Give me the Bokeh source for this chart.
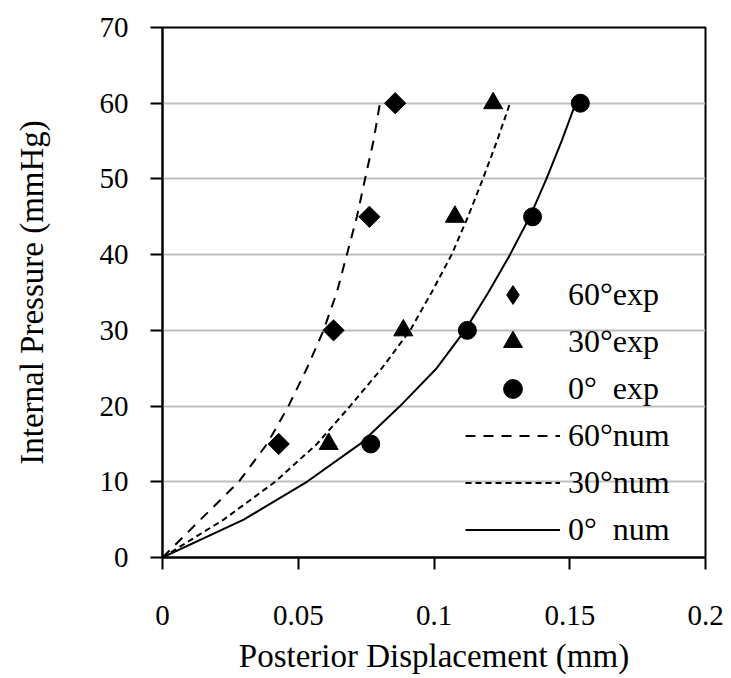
import math
from bokeh.plotting import figure
from bokeh.models import Range1d, FixedTicker, Legend, LegendItem
from bokeh.embed import file_html
from bokeh.resources import INLINE

# ---- data ----
pressure_exp = [15, 30, 45, 60]
exp_60 = [0.0428, 0.0630, 0.0762, 0.0857]
exp_30 = [0.0612, 0.0887, 0.1077, 0.1218]
exp_0 = [0.0767, 0.1123, 0.1363, 0.1539]

pressure_num = [0, 5, 10, 15, 20, 25, 30, 35, 40, 45, 50, 55, 60]
num_60 = [0, 0.0140, 0.0281, 0.0385, 0.0464, 0.0532, 0.0593, 0.0642, 0.0679, 0.0716, 0.0746, 0.0777, 0.0801]
num_30 = [0, 0.0225, 0.0415, 0.0569, 0.0691, 0.0808, 0.0912, 0.0991, 0.1065, 0.1125, 0.1180, 0.1232, 0.1280]
num_0 = [0, 0.0299, 0.0532, 0.0728, 0.0875, 0.1010, 0.1114, 0.1200, 0.1280, 0.1353, 0.1414, 0.1470, 0.1522]

x_ticks = [0, 0.05, 0.1, 0.15, 0.2]
x_tick_labels = ["0", "0.05", "0.1", "0.15", "0.2"]
y_ticks = [0, 10, 20, 30, 40, 50, 60, 70]

legend_labels = ["60°exp", "30°exp", "0°  exp", "60°num", "30°num", "0°  num"]

FONT = "Liberation Serif"

p = figure(width=731, height=678, output_backend="svg", toolbar_location=None,
           x_range=Range1d(0, 0.2), y_range=Range1d(0, 70),
           min_border_left=162, min_border_right=26, min_border_top=27, min_border_bottom=121)

p.background_fill_color = "white"
p.border_fill_color = "white"
p.outline_line_color = "black"
p.outline_line_width = 2

# grid
p.xgrid.visible = False
p.ygrid.grid_line_color = "#BFBFBF"
p.ygrid.grid_line_width = 2

# axes
p.xaxis.ticker = FixedTicker(ticks=x_ticks)
p.xaxis.major_label_overrides = {t: l for t, l in zip(x_ticks, x_tick_labels)}
p.yaxis.ticker = FixedTicker(ticks=y_ticks)
p.xaxis.axis_label = "Posterior Displacement (mm)"
p.yaxis.axis_label = "Internal Pressure (mmHg)"

for ax in (p.xaxis[0], p.yaxis[0]):
    ax.axis_line_color = "black"
    ax.axis_line_width = 2
    ax.major_tick_line_color = "black"
    ax.major_tick_line_width = 2
    ax.major_tick_out = 12
    ax.major_tick_in = 0
    ax.minor_tick_line_color = None
    ax.major_label_text_font = FONT
    ax.major_label_text_font_size = "29px"
    ax.major_label_text_color = "black"
    ax.axis_label_text_font = FONT
    ax.axis_label_text_font_size = "33px"
    ax.axis_label_text_font_style = "normal"
    ax.axis_label_text_color = "black"

p.xaxis.major_label_standoff = 36
p.xaxis.axis_label_standoff = 10
p.yaxis.major_label_standoff = 22
p.yaxis.axis_label_standoff = 47

# numerical curves
r_n60 = p.line(num_60, pressure_num, line_color="black", line_width=2, line_dash="10 8")
r_n30 = p.line(num_30, pressure_num, line_color="black", line_width=2, line_dash="6 4")
r_n0 = p.line(num_0, pressure_num, line_color="black", line_width=2)

# experimental points
p.scatter(exp_60, pressure_exp, marker="square", angle=math.pi / 4, size=15, color="black")
p.scatter(exp_30, pressure_exp, marker="triangle", size=19, color="black")
p.scatter(exp_0, pressure_exp, marker="circle", size=18, color="black")

# legend-only glyphs (hidden, same data)
l_e60 = p.scatter(exp_60, pressure_exp, marker="diamond", color="black", visible=False)
l_e30 = p.scatter(exp_30, pressure_exp, marker="triangle", color="black", visible=False)
l_e0 = p.scatter(exp_0, pressure_exp, marker="circle", color="black", visible=False)

renderers = [l_e60, l_e30, l_e0, r_n60, r_n30, r_n0]
legend = Legend(items=[LegendItem(label=l, renderers=[r]) for l, r in zip(legend_labels, renderers)],
                location=(303, 4), padding=0, margin=0, spacing=0,
                glyph_width=95, glyph_height=47, label_height=47, label_standoff=8,
                border_line_color=None, background_fill_alpha=0,
                label_text_font=FONT, label_text_font_size="32px", label_text_color="black")
p.add_layout(legend)

open("out.html", "w").write(file_html(p, INLINE))
